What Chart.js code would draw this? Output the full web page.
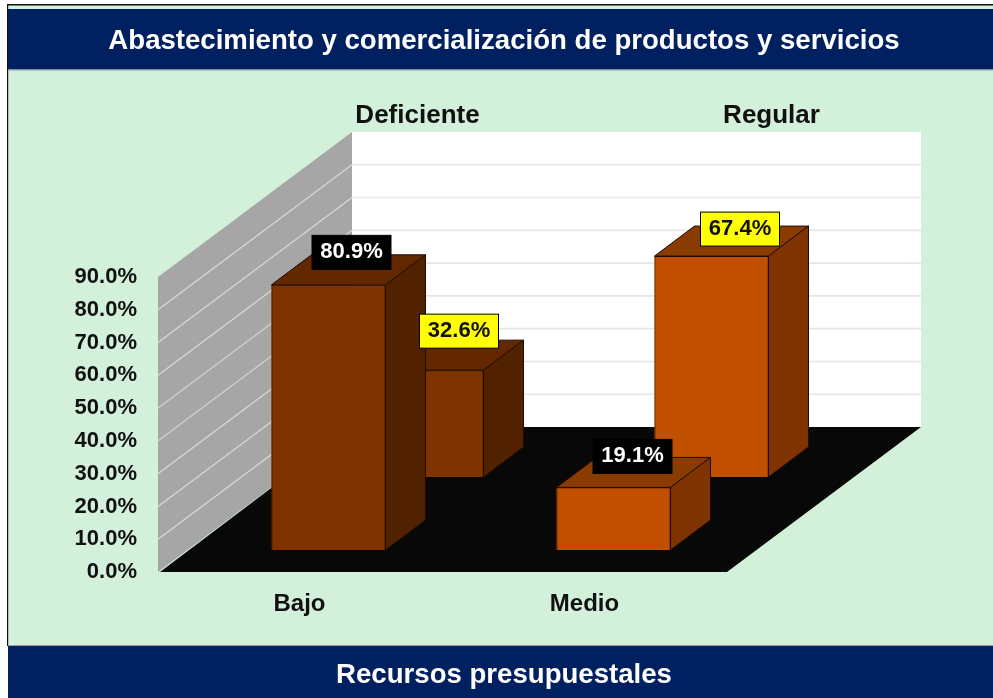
<!DOCTYPE html>
<html lang="es">
<head>
<meta charset="utf-8">
<title>Abastecimiento y comercialización de productos y servicios</title>
<script src="https://cdn.jsdelivr.net/npm/chart.js@4"></script>
<style>
html,body{margin:0;padding:0;background:#fff;overflow:hidden}
canvas{display:block}
</style>
</head>
<body>
<canvas id="c" width="993" height="698"></canvas>
<script>
const chartTitle = 'Abastecimiento y comercialización de productos y servicios';
const footerTitle = 'Recursos presupuestales';
const categories = ['Bajo', 'Medio'];
const deficienteValues = [80.9, 19.1];
const regularValues = [32.6, 67.4];
const depthLabels = ['Deficiente', 'Regular'];

const FONT = '"Liberation Sans", Arial, sans-serif';
const NAVY = '#002060', GREEN = '#D3F0DB';
const frontFill = ['#7F3300', '#C05000'];
const sideFill = ['#522200', '#7F3300'];
const topFill = ['#642800', '#8A3C00'];
const edge = ['#1E0C00', '#1E0C00'];

const DEPTH = {x: 194, y: -145};        // full floor depth
const BAR_D = {x: 40, y: -30};          // depth of a bar
const ROW = [{x: 29, y: -22}, {x: 127, y: -95}]; // front row, back row
const LABEL_OFF = [[{x: 23, y: -32.5}, {x: 19, y: -31}], [{x: 32.5, y: -39}, {x: 28.5, y: -27}]];
const LABEL_STYLE = [{bg: '#000000', fg: '#FFFFFF', line: '#000000'}, {bg: '#FFFF00', fg: '#111111', line: '#000000'}];

function poly(ctx, pts, fill, stroke) {
  ctx.beginPath();
  pts.forEach((p, i) => i ? ctx.lineTo(p[0], p[1]) : ctx.moveTo(p[0], p[1]));
  ctx.closePath();
  if (fill) { ctx.fillStyle = fill; ctx.fill(); }
  if (stroke) { ctx.strokeStyle = stroke; ctx.lineWidth = 1; ctx.stroke(); }
}

const scene = {
  id: 'scene',
  beforeDraw(chart) {
    const {ctx, width, height} = chart;
    ctx.save();
    ctx.fillStyle = '#FFFFFF'; ctx.fillRect(0, 0, width, height);
    ctx.fillStyle = GREEN; ctx.fillRect(8, 5, width - 8, height - 5);
    ctx.fillStyle = '#111111';
    ctx.fillRect(7, 4, width - 7, 1.5);
    ctx.fillRect(7, 4, 1.2, 642);
    ctx.fillStyle = NAVY;
    ctx.fillRect(8, 9, width - 8, 60.5);
    ctx.fillRect(8, 646, width - 8, 52);
    ctx.fillStyle = '#9A9AA0';
    ctx.fillRect(8, 69.5, width - 8, 1);
    ctx.fillRect(8, 645, width - 8, 1);
    ctx.restore();
  },
  beforeDatasetsDraw(chart) {
    const {ctx, chartArea: a, scales: {y}} = chart;
    const l = a.left, r = a.right, b = y.getPixelForValue(0), t = y.getPixelForValue(90);
    const wl = l + 1, bx = l + DEPTH.x + 1, by = b + DEPTH.y;
    ctx.save();
    // back wall
    poly(ctx, [[bx, t + DEPTH.y], [r + DEPTH.x, t + DEPTH.y], [r + DEPTH.x, by], [bx, by]], '#FFFFFF');
    // left wall
    poly(ctx, [[wl, t], [bx, t + DEPTH.y], [bx, by], [wl, b]], '#A6A6A6');
    // floor
    poly(ctx, [[l + 3, b], [bx, by], [r + DEPTH.x, by], [r, b]], '#080808');
    // gridlines
    y.ticks.forEach(tk => {
      if (tk.value === 0 || tk.value === 90) return;
      const py = y.getPixelForValue(tk.value);
      ctx.beginPath(); ctx.moveTo(wl, py); ctx.lineTo(bx, py + DEPTH.y);
      ctx.strokeStyle = '#D9D9D9'; ctx.lineWidth = 1.2; ctx.stroke();
      ctx.beginPath(); ctx.moveTo(bx, py + DEPTH.y); ctx.lineTo(r + DEPTH.x, py + DEPTH.y);
      ctx.strokeStyle = '#E6E6E6'; ctx.lineWidth = 1.6; ctx.stroke();
    });
    // depth-axis labels
    ctx.fillStyle = '#111111';
    ctx.font = 'bold 26px ' + FONT;
    ctx.textAlign = 'center'; ctx.textBaseline = 'middle';
    const xs = chart.scales.x;
    ctx.fillText(depthLabels[0], xs.getPixelForValue(0) + 118, 116);
    ctx.fillText(depthLabels[1], xs.getPixelForValue(1) + 187, 116);
    ctx.restore();
  },
  beforeDatasetDraw(chart, args) {
    const {ctx} = chart, i = args.index, row = ROW[i];
    chart.getDatasetMeta(i).data.forEach((bar, j) => {
      const x0 = bar.x - bar.width / 2 + row.x, x1 = bar.x + bar.width / 2 + row.x;
      const yt = bar.y + row.y, yb = bar.base + row.y;
      poly(ctx, [[x0, yt], [x1, yt], [x1, yb], [x0, yb]], frontFill[j]);
      poly(ctx, [[x0, yt], [x0 + BAR_D.x, yt + BAR_D.y], [x1 + BAR_D.x, yt + BAR_D.y], [x1, yt]], topFill[j], edge[j]);
      poly(ctx, [[x1, yt], [x1 + BAR_D.x, yt + BAR_D.y], [x1 + BAR_D.x, yb + BAR_D.y], [x1, yb]], sideFill[j], edge[j]);
    });
    ctx.save();
    ctx.translate(row.x, row.y);
  },
  afterDatasetDraw(chart) { chart.ctx.restore(); },
  afterDatasetsDraw(chart) {
    const {ctx} = chart;
    ctx.save();
    ctx.font = 'bold 22px ' + FONT;
    ctx.textAlign = 'center'; ctx.textBaseline = 'middle';
    chart.data.datasets.forEach((ds, i) => {
      chart.getDatasetMeta(i).data.forEach((bar, j) => {
        const s = LABEL_STYLE[i];
        const off = LABEL_OFF[i][j];
        const cx = bar.x + ROW[i].x + off.x, cy = bar.y + ROW[i].y + off.y;
        ctx.fillStyle = s.bg; ctx.fillRect(cx - 39.5, cy - 17, 79, 34);
        ctx.strokeStyle = s.line; ctx.lineWidth = 1; ctx.strokeRect(cx - 39.5, cy - 17, 79, 34);
        ctx.fillStyle = s.fg;
        ctx.fillText(ds.data[j].toFixed(1) + '%', cx, cy);
      });
    });
    ctx.restore();
  }
};

new Chart(document.getElementById('c'), {
  type: 'bar',
  data: {
    labels: categories,
    datasets: [
      {label: depthLabels[0], data: deficienteValues, backgroundColor: frontFill, borderColor: edge, borderWidth: 1, clip: false},
      {label: depthLabels[1], data: regularValues, backgroundColor: frontFill, borderColor: edge, borderWidth: 1, clip: false}
    ]
  },
  options: {
    responsive: false,
    animation: false,
    events: [],
    grouped: false,
    barPercentage: 0.4,
    categoryPercentage: 1,
    layout: {padding: {left: 15, right: 0, top: 0, bottom: 0}},
    plugins: {
      legend: {display: false},
      tooltip: {enabled: false},
      title: {display: true, text: chartTitle, color: '#FFFFFF', font: {family: FONT, size: 27.6, weight: 'bold', lineHeight: 1}, padding: {top: 27.4, bottom: 222}},
      subtitle: {display: true, position: 'bottom', text: footerTitle, color: '#FFFFFF', font: {family: FONT, size: 27.6, weight: 'bold', lineHeight: 1}, padding: {top: 33.4, bottom: 9}}
    },
    scales: {
      x: {
        grid: {display: false}, border: {display: false},
        ticks: {color: '#111111', font: {family: FONT, size: 24, weight: 'bold', lineHeight: 1}, padding: 12, maxRotation: 0},
        afterFit(s) { s.height = 56; }
      },
      y: {
        min: 0, max: 90,
        grid: {display: false, drawTicks: false}, border: {display: false},
        ticks: {stepSize: 10, color: '#111111', padding: 20, font: {family: FONT, size: 22, weight: 'bold', lineHeight: 1}, callback: v => v.toFixed(1) + '%'},
        afterFit(s) { s.width = 142; }
      },
      y2: {
        position: 'right', display: true,
        grid: {display: false, drawTicks: false}, border: {display: false},
        ticks: {display: false},
        afterFit(s) { s.width = 266; }
      }
    }
  },
  plugins: [scene]
});
</script>
</body>
</html>
